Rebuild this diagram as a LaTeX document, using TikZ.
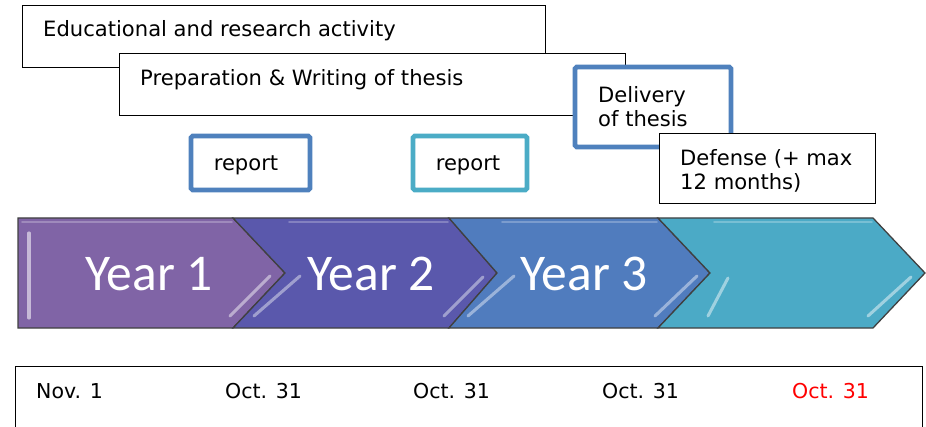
\documentclass[tikz,border=0pt]{standalone}
\usepackage{fontspec}
\setmainfont{DejaVu Sans}
\newfontfamily\yearfont{Carlito}
\usetikzlibrary{fit}
\definecolor{yearone}{RGB}{128,100,166}
\definecolor{yeartwo}{RGB}{90,88,172}
\definecolor{yearthree}{RGB}{80,124,190}
\definecolor{yearfour}{RGB}{75,170,198}
\definecolor{reportblue}{RGB}{79,129,189}
\definecolor{reportaqua}{RGB}{75,172,198}

\begin{document}
\begin{tikzpicture}[x=0.03cm, y=-0.03cm,
    box/.style={draw=black, line width=0.8pt, fill=white, inner sep=0pt},
    thickbox/.style={draw=#1, line width=4.2pt, fill=white, rounded corners=1.5pt, inner sep=0pt},
    boxtext/.style={anchor=base west, inner sep=0pt, align=left, font=\fontsize{18}{21.3}\selectfont},
    datetext/.style={anchor=base west, inner sep=0pt, font=\fontsize{17.5}{21}\selectfont},
    yeartext/.style={anchor=base west, inner sep=0pt, text=white, font=\yearfont\fontsize{44}{50}\selectfont},
    chevron/.style={draw=black!75, line width=1.1pt, line join=miter},
    gloss/.style={line width=2.6pt, line cap=round, opacity=0.85}]
        \useasboundingbox (0,0) rectangle (926,427);

        % Actividades
        \node[box, fit={(22,5) (545,67)}] (edu) {};
        \node[boxtext] (edutext) at (43,37) {Educational and research activity};
        \node[box, fit={(119,53) (625,115)}] (prep) {};
        \node[boxtext] (preptext) at (140,86) {Preparation \& Writing of thesis};

        % Entrega y defensa (base = ultima linea)
        \node[thickbox=reportblue, fit={(575,67) (731,147)}] (delivery) {};
        \node[boxtext] (deliverytext) at (598,127) {Delivery\\of thesis};
        \node[box, fit={(659,133) (875,203)}] (defense) {};
        \node[boxtext] (defensetext) at (680,190) {Defense (+ max\\12 months)};

        % Informes
        \node[thickbox=reportblue, fit={(191,136) (310,190)}] (reportone) {};
        \node[boxtext, anchor=base] (reportonetext) at (246,171) {report};
        \node[thickbox=reportaqua, fit={(413,136) (527,190)}] (reporttwo) {};
        \node[boxtext, anchor=base] (reporttwotext) at (468,171) {report};

        % Flechas de los años
        \draw[chevron, fill=yearone] (18,218) -- (233,218) -- (285,273) -- (233,328) -- (18,328) -- cycle;
        \draw[chevron, fill=yeartwo] (233,218) -- (449,218) -- (497,273) -- (449,328) -- (233,328) -- (285,273) -- cycle;
        \draw[chevron, fill=yearthree] (449,218) -- (658,218) -- (710,273) -- (658,328) -- (449,328) -- (497,273) -- cycle;
        \draw[chevron, fill=yearfour] (658,218) -- (873,218) -- (925,273) -- (873,328) -- (658,328) -- (710,273) -- cycle;

        % Brillos
        \draw[gloss, white, opacity=0.25, line width=1.5pt] (22,222) -- (232,222);
        \draw[gloss, white, opacity=0.25, line width=1.5pt] (289,222) -- (448,222);
        \draw[gloss, white, opacity=0.25, line width=1.5pt] (502,222) -- (657,222);
        \draw[gloss, white, opacity=0.25, line width=1.5pt] (714,222) -- (872,222);
        \draw[gloss, yearone!35!white] (29,233) -- (29,318);
        \draw[gloss, yearone!45!white] (230,316) -- (270,276);
        \draw[gloss, yeartwo!50!white] (254,316) -- (300,276);
        \draw[gloss, yeartwo!50!white] (444,316) -- (483,277);
        \draw[gloss, yearthree!50!white] (468,316) -- (514,276);
        \draw[gloss, yearthree!50!white] (655,316) -- (697,276);
        \draw[gloss, yearfour!45!white] (708,316) -- (728,278);
        \draw[gloss, yearfour!45!white] (868,316) -- (911,277);

        % Etiquetas de los años
        \node[yeartext] (yearone) at (85,290) {Year 1};
        \node[yeartext] (yeartwo) at (307,290) {Year 2};
        \node[yeartext] (yearthree) at (520,290) {Year 3};

        % Fechas
        \draw[line width=0.8pt] (15,428) -- (15,366) -- (922,366) -- (922,428);
        \node[datetext] (start) at (36,398) {Nov. 1};
        \node[datetext] (endone) at (225,398) {Oct. 31};
        \node[datetext] (endtwo) at (413,398) {Oct. 31};
        \node[datetext] (endthree) at (602,398) {Oct. 31};
        \node[datetext, text=red] (endfour) at (792,398) {Oct. 31};
\end{tikzpicture}
\end{document}
